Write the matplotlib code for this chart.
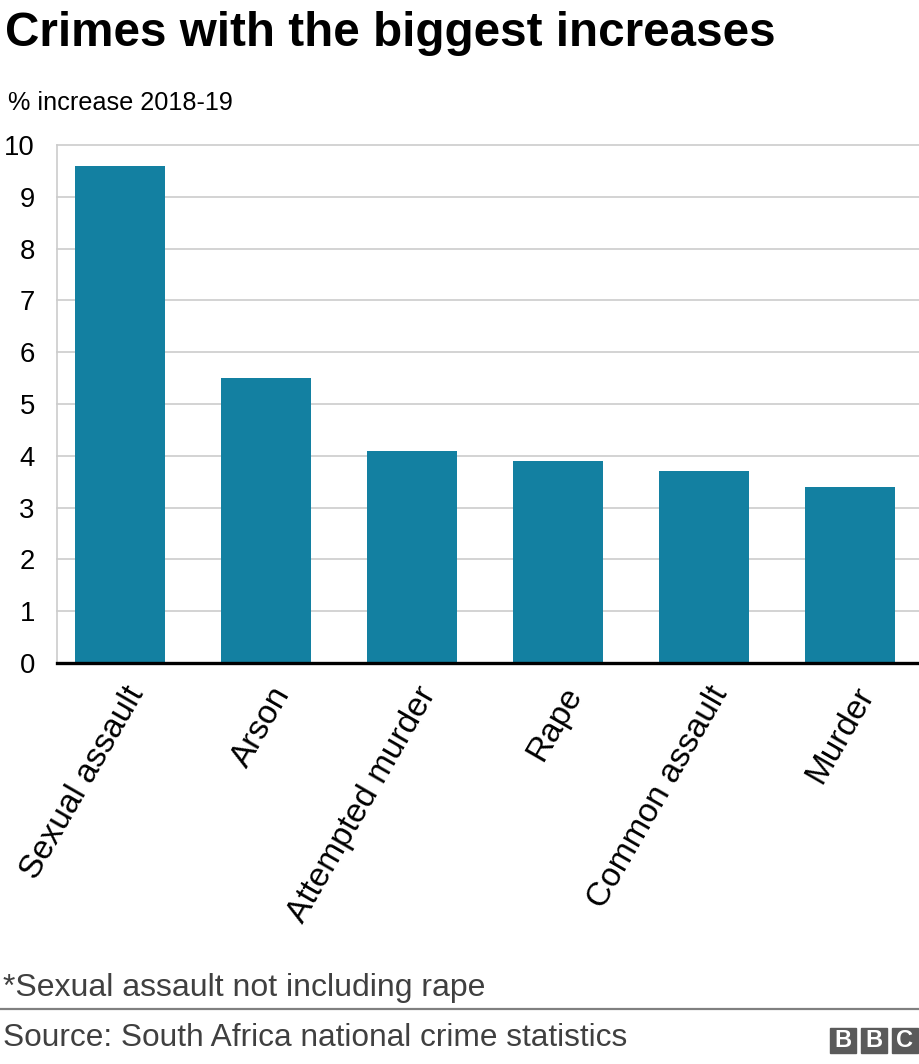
import matplotlib
matplotlib.use("Agg")
import matplotlib.pyplot as plt
import matplotlib.transforms as mtransforms
from matplotlib.patches import Rectangle

# Data
CRIMES = ["Sexual assault", "Arson", "Attempted murder", "Rape", "Common assault", "Murder"]
INCREASE = [9.6, 5.5, 4.1, 3.9, 3.7, 3.4]
Y_TICKS = [0, 1, 2, 3, 4, 5, 6, 7, 8, 9, 10]

TITLE = "Crimes with the biggest increases"
SUBTITLE = "% increase 2018-19"
FOOTNOTE = "*Sexual assault not including rape"
SOURCE = "Source: South Africa national crime statistics"

BAR_COLOR = "#1380A1"
GRID_COLOR = "#cccccc"
W, H = 920, 1064

plt.rcParams["font.family"] = ["Liberation Sans", "DejaVu Sans"]

fig = plt.figure(figsize=(W / 100, H / 100), dpi=100)
ax = fig.add_axes([57 / W, (H - 663) / H, 1 - 57 / W, (663 - 145) / H])

x = list(range(len(CRIMES)))
ax.bar(x, INCREASE, width=0.616, color=BAR_COLOR, zorder=2)
ax.set_xlim(-0.43, 5.48)
ax.set_ylim(0, 10)

ax.set_yticks(Y_TICKS)
ax.set_yticklabels([str(t) for t in Y_TICKS], fontsize=19.8)
ax.tick_params(axis="y", length=0, pad=16)
ax.yaxis.grid(True, color=GRID_COLOR, linewidth=1.2, zorder=0)
for gl in ax.get_ygridlines():
    gl.set_clip_on(False)
ax.set_axisbelow(True)

ax.set_xticks(x)
ax.set_xticklabels(CRIMES, fontsize=24, rotation=60, ha="right",
                   va="center", rotation_mode="anchor")
ax.tick_params(axis="x", length=0, pad=19)
offset = mtransforms.ScaledTranslation(17 / 100, 0, fig.dpi_scale_trans)
for lbl in ax.get_xticklabels():
    lbl.set_transform(lbl.get_transform() + offset)

for side in ["top", "right", "bottom"]:
    ax.spines[side].set_visible(False)
ax.spines["left"].set_color(GRID_COLOR)
ax.spines["left"].set_linewidth(1.2)
ax.axhline(0, color="black", linewidth=2.4, zorder=3, clip_on=False)

# Titles
fig.text(5 / W, 1 - 46 / H, TITLE, fontsize=34.3, fontweight="bold", va="baseline")
fig.text(8 / W, 1 - 110 / H, SUBTITLE, fontsize=18.2, va="baseline")

# Footer
fig.text(3 / W, 1 - 996 / H, FOOTNOTE, fontsize=23, color="#404040", va="baseline")
fig.add_artist(plt.Line2D([0, 1], [1 - 1009 / H, 1 - 1009 / H], color="#808080",
                          linewidth=1.6, transform=fig.transFigure))
fig.text(3 / W, 1 - 1046 / H, SOURCE, fontsize=22.8, color="#404040", va="baseline")

# BBC blocks
for i, letter in enumerate("BBC"):
    x0 = 830 + i * 31
    fig.add_artist(Rectangle((x0 / W, 1 - 1053 / H), 26 / W, 25 / H,
                             transform=fig.transFigure, color="#5a5a5a"))
    fig.text((x0 + 13) / W, 1 - 1040.5 / H, letter, fontsize=17, fontweight="bold",
             color="white", ha="center", va="center")

fig.savefig("out.png", dpi=100)
